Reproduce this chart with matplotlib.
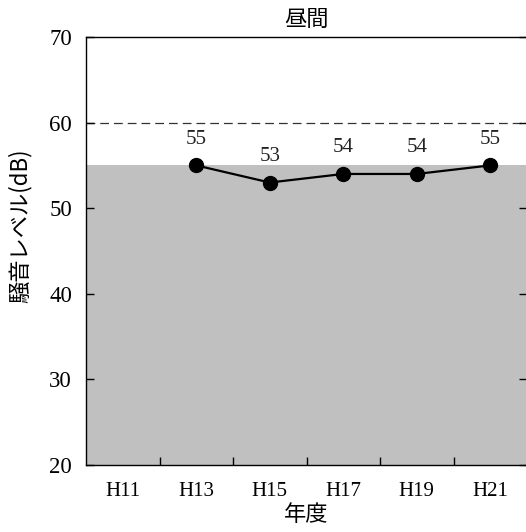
import matplotlib
matplotlib.use("Agg")
import matplotlib.pyplot as plt
import numpy as np

# ── Data ──────────────────────────────────────────────────────────────────────
years = ["H11", "H13", "H15", "H17", "H19", "H21"]
levels = [np.nan, 55, 53, 54, 54, 55]
standard = 55      # shaded area top
limit = 60         # dashed reference line

SERIF = ["Liberation Serif", "Noto Sans CJK JP"]
CJK = ["Noto Sans CJK JP", "DejaVu Sans"]
plt.rcParams["font.family"] = SERIF

W, H = 526, 532
fig = plt.figure(figsize=(W / 100, H / 100), dpi=100)
fig.patch.set_facecolor("white")
ax = fig.add_axes([86 / W, (H - 465) / H, 441 / W, 428 / H])

x = np.arange(len(years))
ax.axhspan(20, standard, color="#C0C0C0", lw=0, zorder=0)
ax.axhline(limit, color="#333333", lw=0.9, dashes=(7, 4), zorder=1)
ax.plot(x, levels, color="black", lw=1.6, marker="o", markersize=10, zorder=3)

for xi, v in zip(x, levels):
    if np.isnan(v):
        continue
    ax.annotate(f"{v:.0f}", (xi, v), xytext=(0, 12), textcoords="offset points",
                ha="center", va="bottom", fontsize=15, family=SERIF, color="#222222")

ax.set_xlim(-0.5, len(years) - 0.5)
ax.set_ylim(20, 70)
ax.set_yticks(np.arange(20, 71, 10))
ax.set_xticks(x)
ax.set_xticklabels(years, fontsize=15)
ax.set_xticks(x[:-1] + 0.5, minor=True)
ax.tick_params(axis="x", which="major", length=0, pad=12)
ax.tick_params(axis="x", which="minor", direction="in", length=6, width=1)
ax.tick_params(axis="y", direction="in", length=6, width=1, labelsize=16.5,
               right=True, pad=10)
for t in ax.get_yticklabels():
    t.set_family(SERIF)

for s in ax.spines.values():
    s.set_linewidth(1.0)

ax.set_title("昼間", fontsize=16, family=CJK, pad=8)
ax.set_xlabel("年度", fontsize=16, family=CJK, labelpad=2)
ax.set_ylabel("騒音レベル(dB)", fontsize=16, family=CJK)
ax.yaxis.set_label_coords(-0.122, 0.56)

fig.savefig("out.png", dpi=100, facecolor="white")
